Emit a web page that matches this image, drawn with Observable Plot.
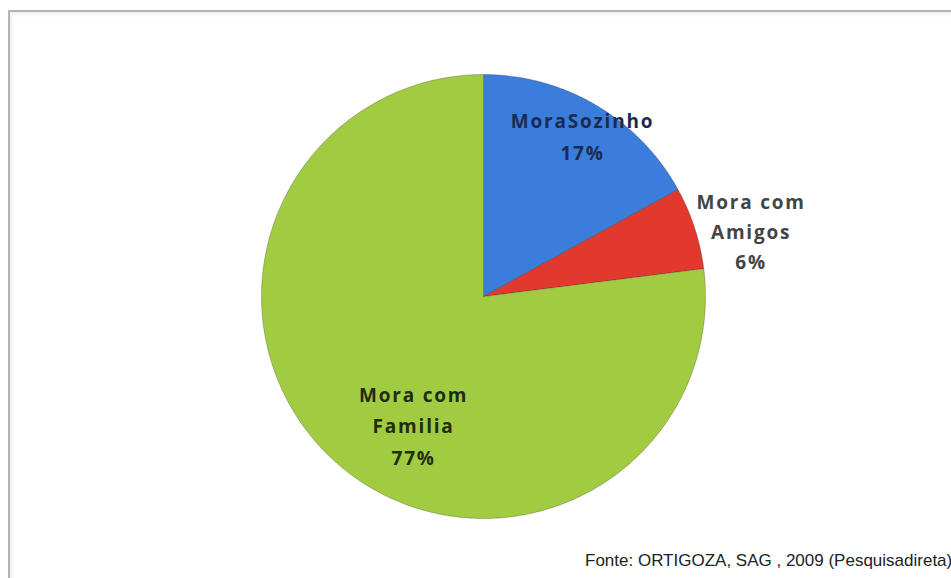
<!DOCTYPE html>
<html>
<head>
<meta charset="utf-8">
<script src="https://cdn.jsdelivr.net/npm/d3@7"></script>
<script src="https://cdn.jsdelivr.net/npm/@observablehq/plot@0.6"></script>
<style>
  html, body { margin: 0; padding: 0; background: #fff; overflow: hidden; }
  #wrap { position: relative; width: 951px; height: 578px; overflow: hidden; }
  #frame { position: absolute; left: 8px; top: 10px; width: 1000px; height: 700px;
           border: 2px solid #b4b4b4; box-shadow: inset 2px 2px 4px rgba(0,0,0,0.08); pointer-events: none; }
  #chart { position: absolute; left: 0; top: 0; }
  #caption { position: absolute; left: 585px; top: 551px; white-space: nowrap;
             font-family: "Liberation Sans", Arial, sans-serif; font-size: 17px; color: #222;
             letter-spacing: 0px; }
</style>
</head>
<body>
<div id="wrap">
  <div id="chart"></div>
  <div id="frame"></div>
  <div id="caption"></div>
</div>
<script>
// ---- data ----
const categories = ["MoraSozinho", "Mora com Amigos", "Mora com Familia"];
const values = [17, 6, 77];
const percentLabels = ["17%", "6%", "77%"];
const colors = ["#3a7ddb", "#e2392f", "#a1cb40"];
const captionText = "Fonte: ORTIGOZA, SAG , 2009 (Pesquisadireta)";

// ---- geometry from data ----
const pie = d3.pie().sort(null).value(d => d.value);
const table = categories.map((c, i) => ({name: c, value: values[i], pct: percentLabels[i], idx: i}));
const arcs = pie(table);

const slicePoints = [];
arcs.forEach(a => {
  const steps = Math.max(2, Math.ceil((a.endAngle - a.startAngle) / (Math.PI / 360)));
  slicePoints.push({name: a.data.name, x: 0, y: 0});
  for (let k = 0; k <= steps; k++) {
    const t = a.startAngle + (a.endAngle - a.startAngle) * k / steps;
    slicePoints.push({name: a.data.name, x: Math.sin(t), y: Math.cos(t)});
  }
  slicePoints.push({name: a.data.name, x: 0, y: 0});
});

function labelAt(i, r) {
  const a = arcs[i];
  const m = (a.startAngle + a.endAngle) / 2;
  const name = a.data.name.replace(/^(Mora com) /, "$1\n");
  return [{x: r * Math.sin(m), y: r * Math.cos(m), text: name + "\n" + a.data.pct}];
}

const W = 951, H = 545;
const chart = Plot.plot({
  width: W,
  height: H,
  marginLeft: 261,
  marginRight: W - 705,
  marginTop: 74,
  marginBottom: H - 518,
  x: {domain: [-1, 1], axis: null},
  y: {domain: [-1, 1], axis: null},
  color: {domain: categories, range: colors},
  style: {background: "transparent", overflow: "visible"},
  marks: [
    Plot.line(slicePoints, {x: "x", y: "y", z: "name", fill: "name", stroke: "rgba(40,40,40,0.35)", strokeWidth: 0.8, curve: "linear"}),
    Plot.text(labelAt(0, 0.85), {x: "x", y: "y", text: "text", lineAnchor: "middle", lineHeight: 1.65,
      fontSize: 19, fontWeight: "bold", fontFamily: "Open Sans", fill: "#1b2b4e", dx: 3, dy: 0}),
    Plot.text(labelAt(1, 1.244), {x: "x", y: "y", text: "text", lineAnchor: "middle", lineHeight: 1.58,
      fontSize: 19, fontWeight: "bold", fontFamily: "Open Sans", fill: "#444", dx: 5, dy: 18}),
    Plot.text(labelAt(2, 0.653), {x: "x", y: "y", text: "text", lineAnchor: "middle", lineHeight: 1.68,
      fontSize: 19, fontWeight: "bold", fontFamily: "Open Sans", fill: "#1f2d10", dx: 26, dy: 18})
  ]
});
d3.select(chart).selectAll("text").style("letter-spacing", "1.8px");
document.getElementById("chart").appendChild(chart);
document.getElementById("caption").textContent = captionText;
</script>
</body>
</html>
